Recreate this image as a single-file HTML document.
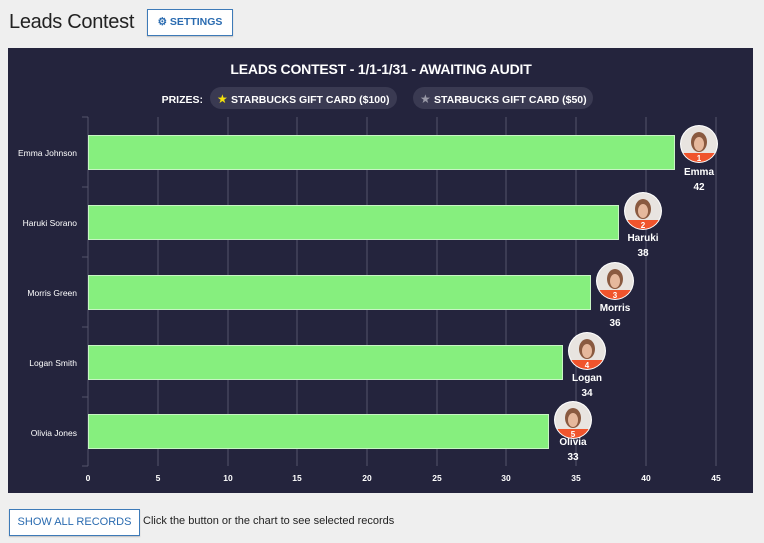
<!DOCTYPE html>
<html><head><style>
body{margin:0;width:764px;height:543px;background:#efefef;font-family:"Liberation Sans",sans-serif;position:relative;overflow:hidden}
.h1{position:absolute;left:9px;top:11px;font-size:20px;color:#222;letter-spacing:-0.3px}
.btn{position:absolute;background:#fff;border:1px solid #3d7ab8;color:#2a6bb0;font-weight:bold;box-shadow:0 1px 1px rgba(0,0,0,.2)}
</style></head><body>
<div class="h1">Leads Contest</div>
<div class="btn" style="left:147px;top:9px;width:84px;height:25px;font-size:10.5px;line-height:25px;text-align:center">⚙ SETTINGS</div>
<svg style="position:absolute;left:0;top:0" width="764" height="543">
<rect x="8" y="48" width="745" height="445" fill="#24243d"/>
<text x="381" y="74" fill="#fff" font-size="14" font-weight="bold" text-anchor="middle" font-family="Liberation Sans" letter-spacing="-0.2">LEADS CONTEST - 1/1-1/31 - AWAITING AUDIT</text>
<text x="203" y="103" fill="#fff" font-size="10.5" font-weight="bold" text-anchor="end" font-family="Liberation Sans">PRIZES:</text>
<rect x="210" y="87" width="187" height="22" rx="11" fill="#3a3a52"/>
<text x="217" y="103" fill="#f5e20b" font-size="12">★</text>
<text x="231" y="103" fill="#fff" font-size="10.5" font-weight="bold" font-family="Liberation Sans">STARBUCKS GIFT CARD ($100)</text>
<rect x="413" y="87" width="180" height="22" rx="11" fill="#3a3a52"/>
<text x="420" y="103" fill="#9a9aa8" font-size="12">★</text>
<text x="434" y="103" fill="#fff" font-size="10.5" font-weight="bold" font-family="Liberation Sans">STARBUCKS GIFT CARD ($50)</text>
<g stroke="#55556a" stroke-width="1">
<line x1="158" y1="117" x2="158" y2="466"/><line x1="228" y1="117" x2="228" y2="466"/><line x1="297" y1="117" x2="297" y2="466"/><line x1="367" y1="117" x2="367" y2="466"/><line x1="437" y1="117" x2="437" y2="466"/><line x1="506" y1="117" x2="506" y2="466"/><line x1="576" y1="117" x2="576" y2="466"/><line x1="646" y1="117" x2="646" y2="466"/><line x1="716" y1="117" x2="716" y2="466"/>
<line x1="88" y1="117" x2="88" y2="466"/>
<line x1="82" y1="117" x2="88" y2="117"/><line x1="82" y1="187" x2="88" y2="187"/><line x1="82" y1="257" x2="88" y2="257"/><line x1="82" y1="327" x2="88" y2="327"/><line x1="82" y1="397" x2="88" y2="397"/><line x1="82" y1="466" x2="88" y2="466"/>
</g>
<g fill="#86ef7e" stroke="#c8f5c4" stroke-width="1">
<rect x="88.5" y="135.5" width="586" height="34"/>
<rect x="88.5" y="205.5" width="530" height="34"/>
<rect x="88.5" y="275.5" width="502" height="34"/>
<rect x="88.5" y="345.5" width="474" height="34"/>
<rect x="88.5" y="414.5" width="460" height="34"/>
</g>
<g fill="#fff" font-size="8.5" font-family="Liberation Sans" text-anchor="end">
<text x="77" y="156">Emma Johnson</text><text x="77" y="226">Haruki Sorano</text><text x="77" y="296">Morris Green</text><text x="77" y="366">Logan Smith</text><text x="77" y="436">Olivia Jones</text>
</g>
<g fill="#fff" font-size="8.5" font-weight="bold" font-family="Liberation Sans" text-anchor="middle">
<text x="88" y="481">0</text><text x="158" y="481">5</text><text x="228" y="481">10</text><text x="297" y="481">15</text><text x="367" y="481">20</text><text x="437" y="481">25</text><text x="506" y="481">30</text><text x="576" y="481">35</text><text x="646" y="481">40</text><text x="716" y="481">45</text>
</g>
<defs><clipPath id="c"><circle cx="0" cy="0" r="18"/></clipPath>
<g id="av"><circle r="19" fill="#fff"/><g clip-path="url(#c)"><circle r="18" fill="#e8e4e0"/><ellipse cx="0" cy="-2" rx="8" ry="10" fill="#8a5a40"/><ellipse cx="0" cy="0" rx="5" ry="7" fill="#e6b89c"/><rect x="-20" y="9" width="40" height="12" fill="#f0542c"/></g></g></defs>
<g font-family="Liberation Sans" font-weight="bold" text-anchor="middle" fill="#fff">
<use href="#av" x="699" y="144"/><text x="699" y="161" font-size="8">1</text><text x="699" y="175" font-size="10">Emma</text><text x="699" y="190" font-size="10">42</text>
<use href="#av" x="643" y="211"/><text x="643" y="228" font-size="8">2</text><text x="643" y="241" font-size="10">Haruki</text><text x="643" y="256" font-size="10">38</text>
<use href="#av" x="615" y="281"/><text x="615" y="298" font-size="8">3</text><text x="615" y="311" font-size="10">Morris</text><text x="615" y="326" font-size="10">36</text>
<use href="#av" x="587" y="351"/><text x="587" y="368" font-size="8">4</text><text x="587" y="381" font-size="10">Logan</text><text x="587" y="396" font-size="10">34</text>
<use href="#av" x="573" y="420"/><text x="573" y="437" font-size="8">5</text><text x="573" y="445" font-size="10">Olivia</text><text x="573" y="460" font-size="10">33</text>
</g>
</svg>
<div class="btn" style="left:9px;top:509px;width:129px;height:25px;font-size:11px;line-height:25px;text-align:center;font-weight:normal">SHOW ALL RECORDS</div>
<div style="position:absolute;left:143px;top:515px;font-size:11px;color:#222">Click the button or the chart to see selected records</div>
</body></html>
